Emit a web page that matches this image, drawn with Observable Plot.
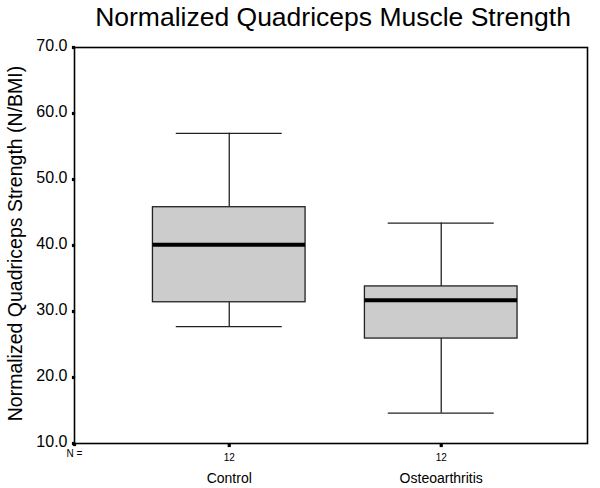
<!DOCTYPE html>
<html><head><meta charset="utf-8">
<script src="https://cdn.jsdelivr.net/npm/d3@7"></script>
<script src="https://cdn.jsdelivr.net/npm/@observablehq/plot@0.6"></script>
<style>body{margin:0;background:#fff;font-family:"Liberation Sans",Arial,sans-serif}</style>
</head><body><div id="chart"></div>
<script>
const categories = ["Control", "Osteoarthritis"];
const nCounts = [12, 12];
const whiskerLow = [27.7, 14.6];
const q1 = [31.4, 25.9];
const median = [40.1, 31.7];
const q3 = [45.8, 33.8];
const whiskerHigh = [57.0, 43.4];
const yTicks = [10, 20, 30, 40, 50, 60, 70];

const data = categories.map((c, i) => ({
  cat: c, pos: i + 1, n: nCounts[i],
  lo: whiskerLow[i], q1: q1[i], med: median[i], q3: q3[i], hi: whiskerHigh[i]
}));
const hw = 0.36, cw = 0.25;

const plot = Plot.plot({
  width: 600, height: 488,
  marginTop: 47, marginBottom: 45, marginLeft: 74, marginRight: 13,
  style: {fontFamily: "'Liberation Sans', Arial, sans-serif", background: "#fff"},
  x: {domain: [0.27, 2.69], axis: null},
  y: {domain: [10, 70], axis: null},
  marks: [
    Plot.frame({stroke: "#000", strokeWidth: 1.6}),
    // whiskers
    Plot.ruleX(data, {x: "pos", y1: "lo", y2: "q1", stroke: "#222", strokeWidth: 1.3}),
    Plot.ruleX(data, {x: "pos", y1: "q3", y2: "hi", stroke: "#222", strokeWidth: 1.3}),
    Plot.ruleY(data, {y: "lo", x1: d => d.pos - cw, x2: d => d.pos + cw, stroke: "#222", strokeWidth: 1.3}),
    Plot.ruleY(data, {y: "hi", x1: d => d.pos - cw, x2: d => d.pos + cw, stroke: "#222", strokeWidth: 1.3}),
    // boxes
    Plot.rect(data, {x1: d => d.pos - hw, x2: d => d.pos + hw, y1: "q1", y2: "q3", fill: "#cccccc", stroke: "#222", strokeWidth: 1.3}),
    Plot.ruleY(data, {y: "med", x1: d => d.pos - hw, x2: d => d.pos + hw, stroke: "#000", strokeWidth: 4}),
    // y axis ticks and labels
    Plot.dot(yTicks, {y: d => d, frameAnchor: "left", dx: -1, r: 1.8, symbol: "square", fill: "#000"}),
    Plot.text(yTicks, {y: d => d, text: d => d.toFixed(1), frameAnchor: "left", dx: -7, dy: -2, textAnchor: "end", fontSize: 16, fill: "#000"}),
    // x ticks
    Plot.dot(data, {x: "pos", frameAnchor: "bottom", dy: 2, r: 1.8, symbol: "square", fill: "#000"}),
    Plot.dot([0], {frameAnchor: "bottom-left", dy: 1, r: 1.8, symbol: "square", fill: "#000"}),
    Plot.text(data, {x: "pos", text: d => String(d.n), frameAnchor: "bottom", dy: 14, lineAnchor: "middle", fontSize: 10, fill: "#000"}),
    Plot.text(["N ="], {frameAnchor: "bottom-left", dy: 10, textAnchor: "middle", lineAnchor: "middle", fontSize: 10, fill: "#000"}),
    Plot.text(data, {x: "pos", text: "cat", frameAnchor: "bottom", dy: 35, lineAnchor: "middle", fontSize: 14, fill: "#000"}),
    // y axis title
    Plot.text(["Normalized Quadriceps Strength (N/BMI)"], {frameAnchor: "left", dx: -59, dy: -2, textAnchor: "middle", lineAnchor: "middle", rotate: -90, fontSize: 19.5, fill: "#000"}),
    // title
    Plot.text(["Normalized Quadriceps Muscle Strength"], {frameAnchor: "top", dx: 2, dy: -30, lineAnchor: "middle", fontSize: 26.5, fill: "#000"})
  ]
});
document.getElementById("chart").append(plot);
</script></body></html>
